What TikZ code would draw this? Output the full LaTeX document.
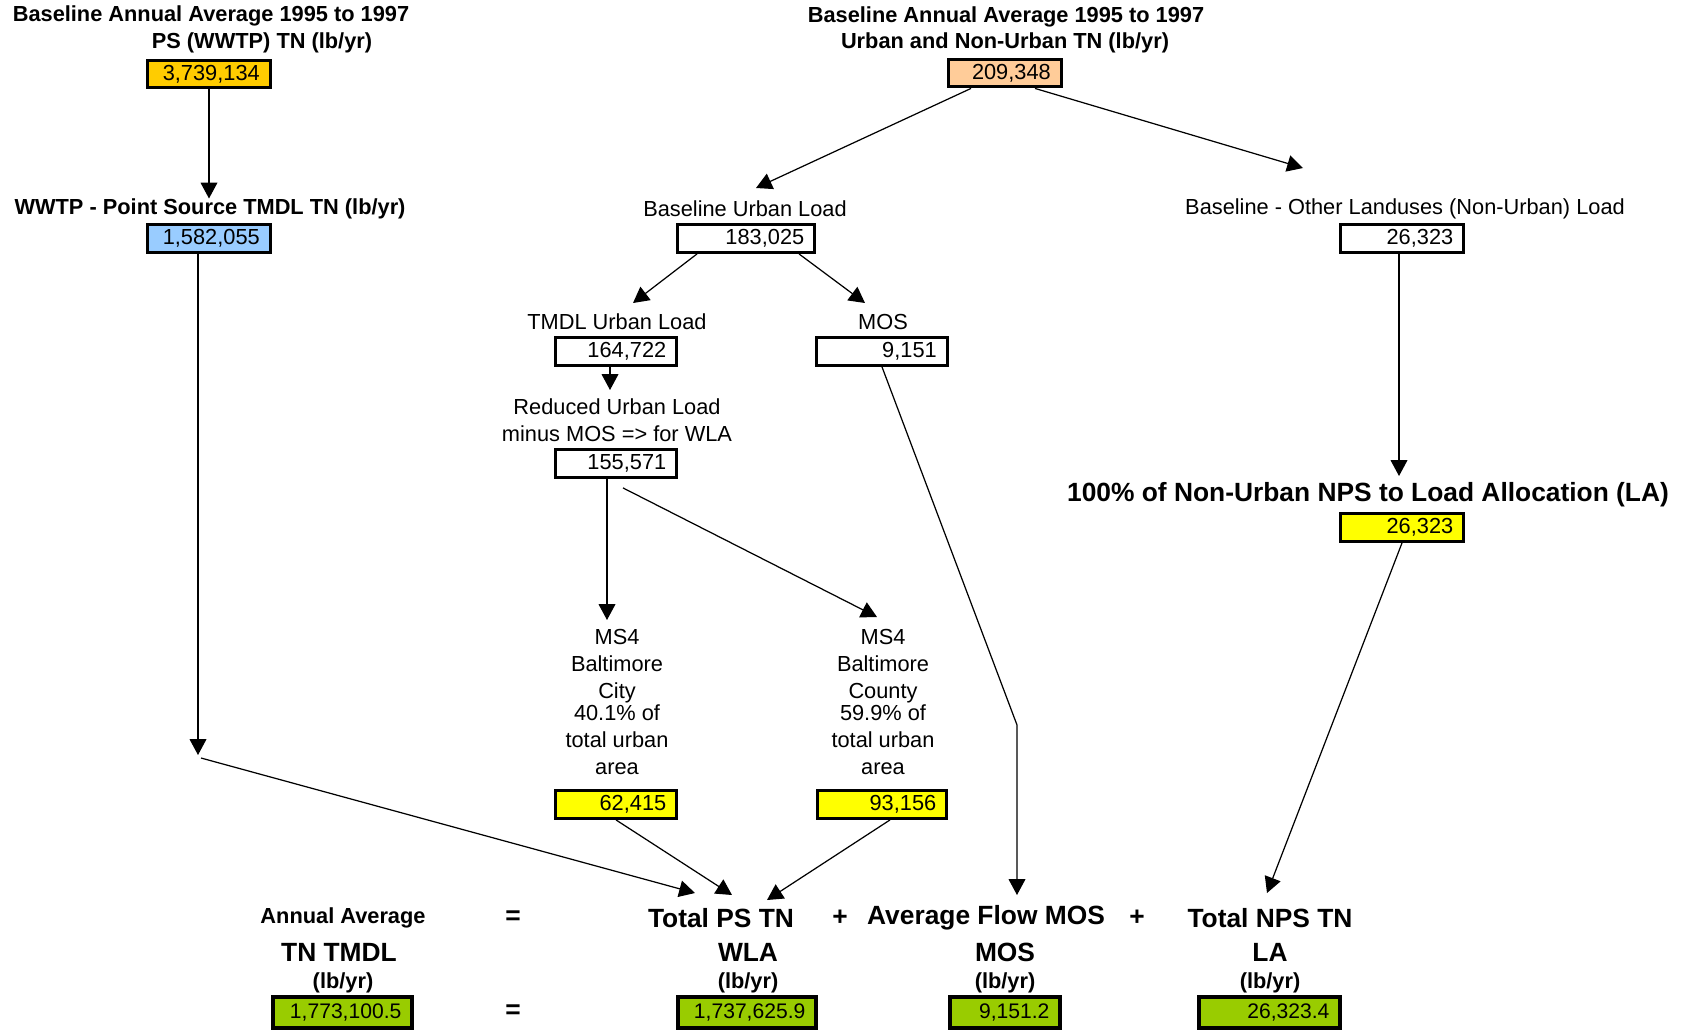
\documentclass[tikz,border=0pt]{standalone}
\usepackage{fontspec}
\setmainfont{Liberation Sans}
\usetikzlibrary{arrows.meta,calc}

\definecolor{psgold}{RGB}{255,204,0}
\definecolor{urbpeach}{RGB}{255,204,153}
\definecolor{tmdlblue}{RGB}{153,204,255}
\definecolor{alloc}{RGB}{255,255,0}
\definecolor{totgreen}{RGB}{153,204,0}

\tikzset{
  lbl/.style={font=\fontsize{12.4}{15.3}\selectfont, align=center, inner sep=0pt},
  ttl/.style={font=\fontsize{12.4}{15}\selectfont\bfseries, inner sep=0pt},
  eqn/.style={font=\fontsize{15}{18}\selectfont\bfseries, inner sep=0pt},
  valbox/.style={draw, line width=1.9pt, inner xsep=6pt, inner ysep=0pt, minimum height=0.55cm,
    text width=#1, align=right, font=\fontsize{12.4}{14}\selectfont},
  totbox/.style={valbox=#1, line width=2.3pt, minimum height=0.62cm, fill=totgreen,
    font=\fontsize{12}{14}\selectfont},
  arr/.style={-{Triangle[length=9pt,width=9.5pt]}, line width=0.7pt}
}

\begin{document}
\begin{tikzpicture}[x=0.02cm,y=-0.02cm]
  \useasboundingbox (0,0) rectangle (1682,1032);

  % point source
  \node[ttl] (psTtlA) at (211,16) {Baseline Annual Average 1995 to 1997};
  \node[ttl] (psTtlB) at (262,43) {PS (WWTP) TN (lb/yr)};
  \node[valbox=2.03cm, fill=psgold] (psBase) at (209,74) {3,739,134};
  \node[ttl] (wwtpLbl) at (210,209) {WWTP - Point Source TMDL TN (lb/yr)};
  \node[valbox=2.03cm, fill=tmdlblue] (psTmdl) at (209,238.5) {1,582,055};

  % urban and non-urban
  \node[ttl] (uTtlA) at (1006,17) {Baseline Annual Average 1995 to 1997};
  \node[ttl] (uTtlB) at (1005,43) {Urban and Non-Urban TN (lb/yr)};
  \node[valbox=1.83cm, fill=urbpeach] (uBase) at (1005,73) {209,348};
  \node[lbl] (urbLbl) at (745,209) {Baseline Urban Load};
  \node[valbox=2.33cm] (urbBase) at (746,238.5) {183,025};
  \node[lbl] (othLbl) at (1405,209) {Baseline - Other Landuses (Non-Urban) Load};
  \node[valbox=2.05cm] (othBase) at (1402,238.5) {26,323};
  \node[lbl] (tmdlLbl) at (617,322) {TMDL Urban Load};
  \node[valbox=2.01cm] (urbTmdl) at (616,351.5) {164,722};
  \node[lbl] (mosLbl) at (883,322) {MOS};
  \node[valbox=2.19cm] (mos) at (882,351.5) {9,151};
  \node[lbl] (redLbl) at (617,420) {Reduced Urban Load\\minus MOS => for WLA};
  \node[valbox=2.01cm] (urbRed) at (616,463.5) {155,571};
  \node[lbl, anchor=north] (cityLbl) at (617,629) {MS4\\Baltimore\\City\\[-2.8pt]40.1\% of\\total urban\\area};
  \node[valbox=2.01cm, fill=alloc] (city) at (616,804.5) {62,415};
  \node[lbl, anchor=north] (cntyLbl) at (883,629) {MS4\\Baltimore\\County\\[-2.8pt]59.9\% of\\total urban\\area};
  \node[valbox=2.17cm, fill=alloc] (cnty) at (882,804.5) {93,156};
  \node[eqn] (laLbl) at (1368,495) {100\% of Non-Urban NPS to Load Allocation (LA)};
  \node[valbox=2.05cm, fill=alloc] (la) at (1402,527.5) {26,323};

  % TMDL = WLA + MOS + LA
  \node[ttl] (sumA) at (343,918) {Annual Average};
  \node[eqn] (sumB) at (339,952) {TN TMDL};
  \node[ttl] (sumC) at (343,983) {(lb/yr)};
  \node[totbox=2.355cm] (sum) at (342.5,1012.5) {1,773,100.5};
  \node[eqn] (eqA) at (513,918) {=};
  \node[eqn] (eqB) at (513,1012) {=};
  \node[eqn] (wlaA) at (721,918) {Total PS TN};
  \node[eqn] (wlaB) at (748,952) {WLA};
  \node[ttl] (wlaC) at (748,983) {(lb/yr)};
  \node[totbox=2.335cm] (wla) at (747,1012.5) {1,737,625.9};
  \node[eqn] (plusA) at (840,918) {+};
  \node[eqn] (mosA) at (986,918) {Average Flow MOS};
  \node[eqn] (mosB) at (1005,952) {MOS};
  \node[ttl] (mosC) at (1005,983) {(lb/yr)};
  \node[totbox=1.775cm] (mosT) at (1005,1012.5) {9,151.2};
  \node[eqn] (plusB) at (1137,918) {+};
  \node[eqn] (laA) at (1270,918) {Total NPS TN};
  \node[eqn] (laB) at (1270,952) {LA};
  \node[ttl] (laC) at (1270,983) {(lb/yr)};
  \node[totbox=2.395cm] (laT) at (1269.5,1012.5) {26,323.4};

  % arrow ends
  \coordinate (tipUrb) at (756,188);
  \coordinate (tipOth) at (1303,168);
  \coordinate (tipTmdl) at (633,303);
  \coordinate (tipMosL) at (865,303);
  \coordinate (tipRed) at (610,390);
  \coordinate (tipCityL) at (607,620);
  \coordinate (tipCntyL) at (877,617);
  \coordinate (tipOthL) at (1399,476);
  \coordinate (wwtpEnd) at (198,755);
  \coordinate (wwtpFrom) at (201,758);
  \coordinate (mosBend) at (1017,725);
  \coordinate (tipWwtp) at (695,893);
  \coordinate (tipCity) at (732,895);
  \coordinate (tipCnty) at (767,900);
  \coordinate (tipMos) at (1017,895);
  \coordinate (tipLa) at (1267,893);

  \draw[arr] (psBase.south) -- (psBase.south |- wwtpLbl.north);
  \draw[arr] (psTmdl.south -| wwtpEnd) -- (wwtpEnd);
  \draw[arr] (wwtpFrom) -- (tipWwtp);
  \draw[arr] ($(uBase.south)+(-34,0)$) -- (tipUrb);
  \draw[arr] ($(uBase.south)+(30,0)$) -- (tipOth);
  \draw[arr] ($(urbBase.south)+(-49,0)$) -- (tipTmdl);
  \draw[arr] ($(urbBase.south)+(53,0)$) -- (tipMosL);
  \draw[arr] (urbTmdl.south -| tipRed) -- (tipRed);
  \draw[arr] (urbRed.south -| tipCityL) -- (tipCityL);
  \draw[arr] ($(urbRed.south)+(7,9)$) -- (tipCntyL);
  \draw[arr] (mos.south) -- (mosBend) -- (tipMos);
  \draw[arr] (city.south) -- (tipCity);
  \draw[arr] ($(cnty.south)+(8,0)$) -- (tipCnty);
  \draw[arr] (othBase.south -| tipOthL) -- (tipOthL);
  \draw[arr] (la.south) -- (tipLa);
\end{tikzpicture}
\end{document}
